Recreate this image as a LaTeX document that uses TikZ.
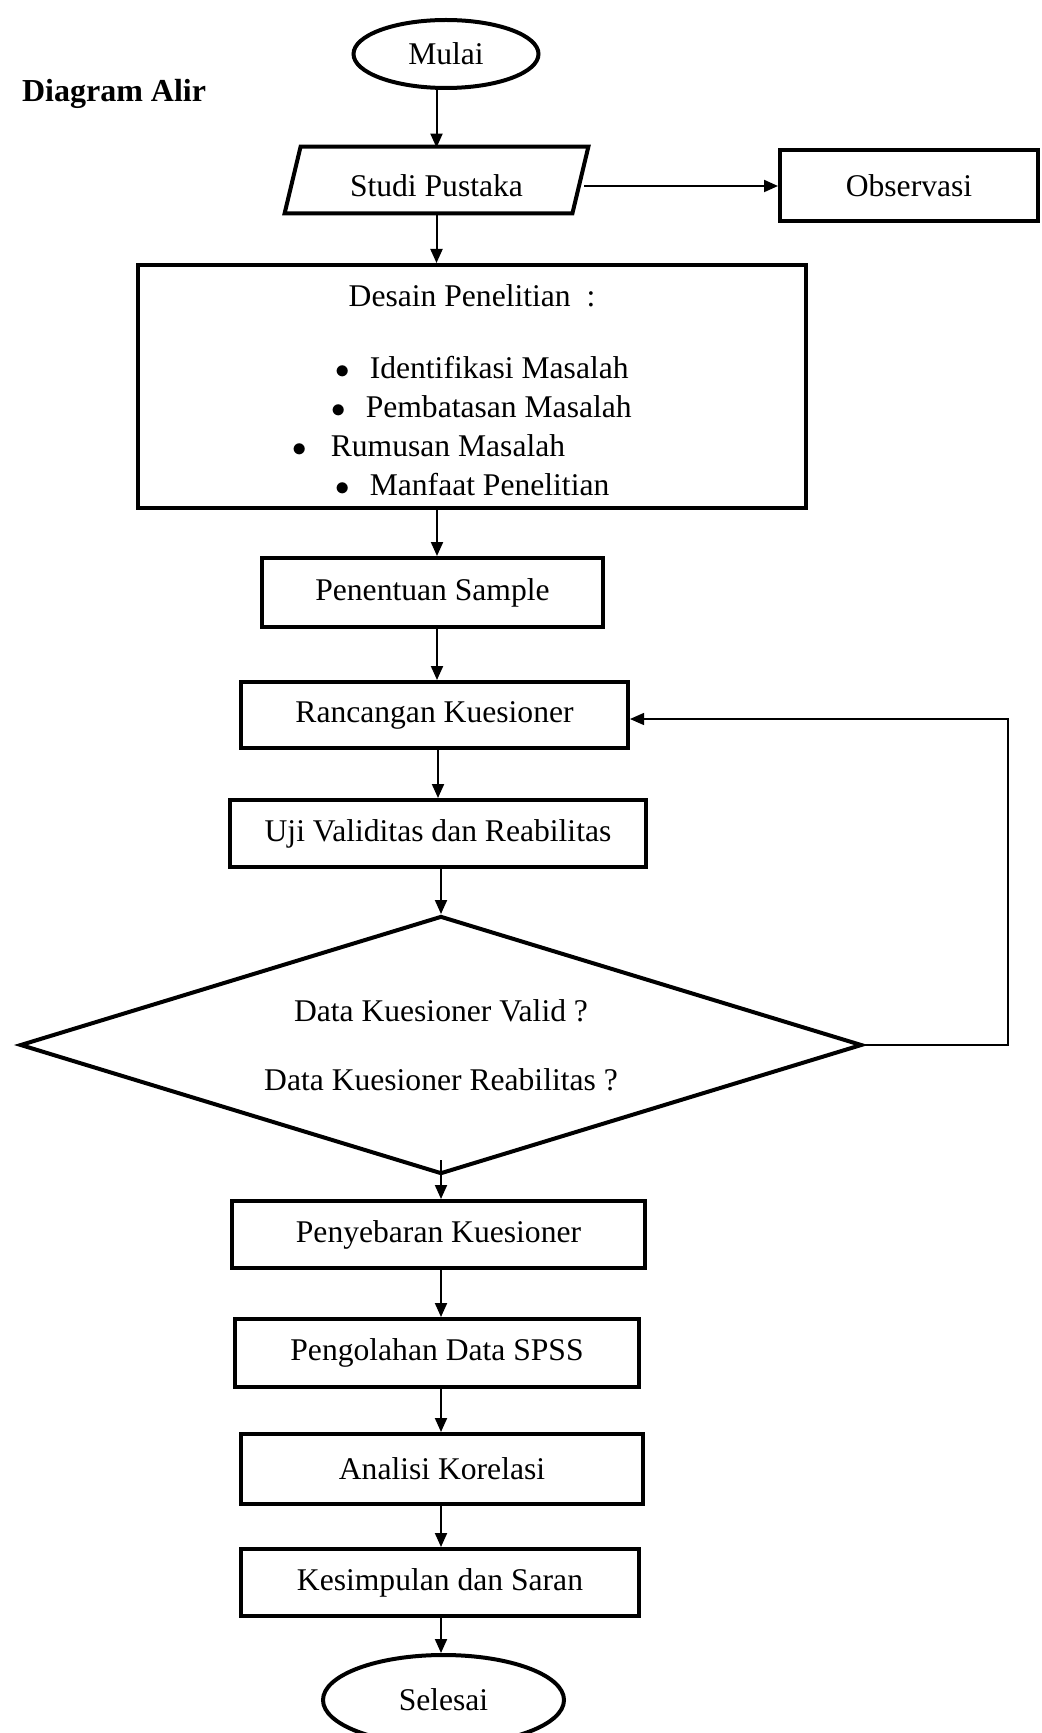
\documentclass[tikz,border=0pt]{standalone}
\usepackage{fontspec}
\setmainfont{Liberation Serif}
\usetikzlibrary{arrows.meta,shapes.geometric}

\begin{document}
\begin{tikzpicture}[x=0.5pt,y=-0.5pt,
  font=\fontsize{15.8}{19}\selectfont,
  box/.style={draw=black, line width=2pt, rectangle, inner sep=0pt},
  terminal/.style={draw=black, line width=2pt, ellipse, inner sep=0pt},
  arr/.style={draw=black, line width=1pt, -{Triangle[length=7pt,width=6pt]}},
  balikarr/.style={draw=black, line width=0.7pt, -{Triangle[length=7pt,width=6pt]}}]
\useasboundingbox (0,0) rectangle (1042,1733);
\node[anchor=west, font=\fontsize{16}{19}\selectfont\bfseries] (judul) at (15,94) {Diagram Alir};
\node[terminal, minimum width=92.5pt, minimum height=34pt] (mulai) at (446,54) {Mulai};
% jajaran genjang studi pustaka
\node[inner sep=0pt, minimum width=143.5pt, minimum height=33pt] (studi) at (436.5,180) {\raisebox{-8.5pt}[0pt][0pt]{Studi Pustaka}};
\draw[line width=2pt, line join=miter] ([xshift=-4pt]studi.south west) -- ([xshift=4pt]studi.north west) -- ([xshift=4pt]studi.north east) -- ([xshift=-4pt]studi.south east) -- cycle;
\node[box, minimum width=129pt, minimum height=35.5pt] (obs) at (909,186) {Observasi};
\node[box, minimum width=334pt, minimum height=121.5pt] (desain) at (472,386.5) {};
\node (desainjudul) at (472,296) {Desain Penelitian\ \ :};
\node[anchor=west, inner sep=0pt] (poin1) at (335,368) {$\bullet$\hspace{10pt}Identifikasi Masalah};
\node[anchor=west, inner sep=0pt] (poin2) at (331,407) {$\bullet$\hspace{10pt}Pembatasan Masalah};
\node[anchor=west, inner sep=0pt] (poin3) at (292,446) {$\bullet$\hspace{12pt}Rumusan Masalah};
\node[anchor=west, inner sep=0pt] (poin4) at (335,485) {$\bullet$\hspace{10pt}Manfaat Penelitian};
\node[box, minimum width=170.5pt, minimum height=34.5pt] (sample) at (432.5,592.5) {Penentuan Sample};
\node[box, minimum width=193.5pt, minimum height=33pt] (rancang) at (434.5,715) {Rancangan Kuesioner};
\node[box, minimum width=208pt, minimum height=33.5pt] (uji) at (438,833.5) {Uji Validitas dan Reabilitas};
\node[draw=black, line width=2pt, diamond, aspect=3.3, minimum width=421pt, minimum height=129pt, inner sep=0pt, align=center] (valid) at (441,1045) {Data Kuesioner Valid ?\\[15.5pt]Data Kuesioner Reabilitas ?};
\node[box, minimum width=206.5pt, minimum height=33.5pt] (sebar) at (438.5,1234.5) {Penyebaran Kuesioner};
\node[box, minimum width=202pt, minimum height=34pt] (olah) at (437,1353) {Pengolahan Data SPSS};
\node[box, minimum width=201pt, minimum height=35pt] (analisi) at (442,1469) {Analisi Korelasi};
\node[box, minimum width=199pt, minimum height=33.5pt] (simpul) at (440,1582.5) {Kesimpulan dan Saran};
\node[terminal, minimum width=120.5pt, minimum height=45pt] (selesai) at (443.5,1700) {Selesai};

\coordinate (poros) at (437,0);
\coordinate (balik) at (1008,719);

\draw[arr] (mulai.south -| studi.north) -- ([yshift=-0.5pt]studi.north);
\draw[arr] ([xshift=2pt]studi.east |- obs.west) -- (obs.west);
\draw[arr] (studi.south) -- (studi.south |- desain.north);
\draw[arr] (desain.south -| poros) -- (sample.north -| poros);
\draw[arr] (sample.south -| poros) -- (rancang.north -| poros);
\draw[arr] (rancang.south -| uji.north) -- (uji.north);
\draw[arr] (uji.south -| valid.north) -- (valid.north);
\draw[arr] ([yshift=8pt]valid.south) -- (valid.south |- sebar.north);
\draw[arr] (sebar.south -| valid.south) -- (valid.south |- olah.north);
\draw[arr] (olah.south -| valid.south) -- (valid.south |- analisi.north);
\draw[arr] (analisi.south -| valid.south) -- (valid.south |- simpul.north);
\draw[arr] (simpul.south -| valid.south) -- (valid.south |- selesai.north);
\draw[balikarr] (valid.east) -- (valid.east -| balik) -- (balik) -- (rancang.east |- balik);
\end{tikzpicture}
\end{document}
